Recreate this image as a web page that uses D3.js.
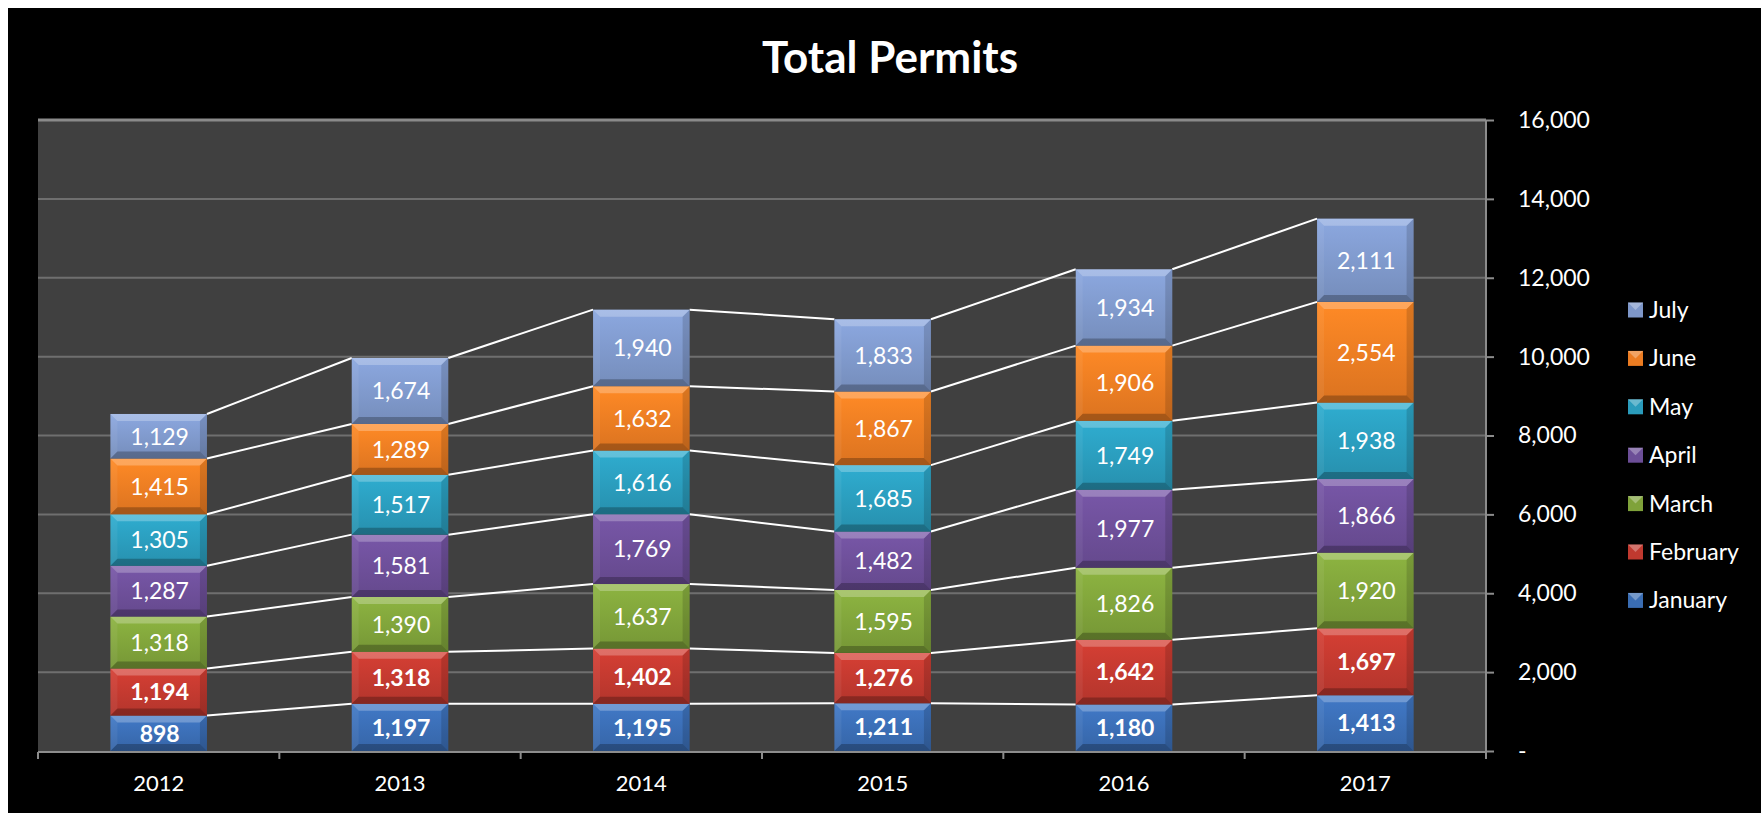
<!DOCTYPE html>
<html>
<head>
<meta charset="utf-8">
<script src="https://cdn.jsdelivr.net/npm/d3@7"></script>
<style>
    body { margin: 0; background: #ffffff; }
    text { font-family: Lato, "Open Sans", sans-serif; }
</style>
</head>
<body>
<div id="chart"></div>
<script>
// data
const years = ["2012", "2013", "2014", "2015", "2016", "2017"];
const months = ["January", "February", "March", "April", "May", "June", "July"];
const january  = [898, 1197, 1195, 1211, 1180, 1413];
const february = [1194, 1318, 1402, 1276, 1642, 1697];
const march    = [1318, 1390, 1637, 1595, 1826, 1920];
const april    = [1287, 1581, 1769, 1482, 1977, 1866];
const may      = [1305, 1517, 1616, 1685, 1749, 1938];
const june     = [1415, 1289, 1632, 1867, 1906, 2554];
const july     = [1129, 1674, 1940, 1833, 1934, 2111];
const yTicks   = [0, 2000, 4000, 6000, 8000, 10000, 12000, 14000, 16000];

const seriesValues = [january, february, march, april, may, june, july];
const colors = ["#3a6db3", "#c0392f", "#7fa23a", "#6c4e97", "#2a9bbb", "#eb7c22", "#7e97c9"];
const boldLabels = ["January", "February"];

let width = 1761, height = 813;
let plot = {left: 38, right: 1486, top: 120, bottom: 751};

// table for d3.stack
let table = years.map(function (yr, i) {
    let row = {year: yr};
    months.forEach(function (m, j) { row[m] = seriesValues[j][i]; });
    return row;
});
let stacked = d3.stack().keys(months)(table);

let svg = d3.select("#chart").append("svg")
    .attr("width", width)
    .attr("height", height);

svg.append("rect")
    .attr("x", 8).attr("y", 8)
    .attr("width", width - 8).attr("height", height - 8)
    .attr("fill", "#000000");

let x = d3.scaleBand().domain(years).range([plot.left, plot.right])
    .paddingInner(0.6).paddingOuter(0.3);
let xCat = d3.scaleBand().domain(years).range([plot.left, plot.right]);
let y = d3.scaleLinear().domain([0, 16000]).range([plot.bottom, plot.top]);

// gradients for the bevel look
let defs = svg.append("defs");
colors.forEach(function (c, i) {
    let g = defs.append("linearGradient").attr("id", "grad" + i)
        .attr("x1", 0).attr("y1", 0).attr("x2", 0).attr("y2", 1);
    g.append("stop").attr("offset", "0%").attr("stop-color", d3.color(c).brighter(0.3));
    g.append("stop").attr("offset", "100%").attr("stop-color", d3.color(c).darker(0.2));
});

// plot area
svg.append("rect")
    .attr("x", plot.left).attr("y", plot.top)
    .attr("width", plot.right - plot.left).attr("height", plot.bottom - plot.top)
    .attr("fill", "#404040");

svg.append("g").attr("class", "grid")
    .selectAll("line")
    .data(yTicks.filter(d => d > 0))
    .enter().append("line")
    .attr("x1", plot.left).attr("x2", plot.right)
    .attr("y1", d => y(d)).attr("y2", d => y(d))
    .attr("stroke", d => d === 16000 ? "#8a8a8a" : "#6f6f6f")
    .attr("stroke-width", d => d === 16000 ? 3 : 2);

// right value axis
let yAxis = svg.append("g")
    .attr("transform", "translate(" + plot.right + ",0)")
    .call(d3.axisRight(y).tickValues(yTicks)
        .tickFormat(d => d === 0 ? "-" : d3.format(",")(d))
        .tickSize(8).tickPadding(24));
yAxis.select(".domain").remove();
yAxis.selectAll(".tick line").attr("stroke", "#8c8c8c").attr("stroke-width", 2);
yAxis.selectAll(".tick text")
    .attr("fill", "#ffffff")
    .style("font-size", "23px");
svg.append("line")
    .attr("x1", plot.right).attr("x2", plot.right)
    .attr("y1", plot.top).attr("y2", plot.bottom + 6)
    .attr("stroke", "#8c8c8c").attr("stroke-width", 2);

// category axis
svg.append("line")
    .attr("x1", plot.left).attr("x2", plot.right)
    .attr("y1", plot.bottom + 1).attr("y2", plot.bottom + 1)
    .attr("stroke", "#8c8c8c").attr("stroke-width", 2);
svg.append("g")
    .selectAll("line")
    .data(years.map(d => xCat(d)).concat([plot.right]))
    .enter().append("line")
    .attr("x1", d => d).attr("x2", d => d)
    .attr("y1", plot.bottom + 1).attr("y2", plot.bottom + 8)
    .attr("stroke", "#8c8c8c").attr("stroke-width", 2);
svg.append("g")
    .selectAll("text")
    .data(years)
    .enter().append("text")
    .attr("x", d => xCat(d) + xCat.bandwidth() / 2)
    .attr("y", plot.bottom + 40)
    .attr("text-anchor", "middle")
    .attr("fill", "#ffffff")
    .style("font-size", "22px")
    .text(d => d);

// series lines between bars
let lineData = [];
stacked.forEach(function (s) {
    for (let i = 0; i < years.length - 1; i++) {
        lineData.push({x1: x(years[i]) + x.bandwidth(), y1: y(s[i][1]),
                       x2: x(years[i + 1]), y2: y(s[i + 1][1])});
    }
});
svg.append("g").attr("class", "series-lines")
    .selectAll("line")
    .data(lineData)
    .enter().append("line")
    .attr("x1", d => d.x1).attr("y1", d => d.y1)
    .attr("x2", d => d.x2).attr("y2", d => d.y2)
    .attr("stroke", "#ffffff")
    .attr("stroke-width", 2);

// bars
let b = 7;
let layers = svg.append("g").attr("class", "bars")
    .selectAll("g")
    .data(stacked)
    .enter().append("g");

let seg = layers.selectAll("g")
    .data(function (s, i) { return s.map(d => ({d: d, k: i, key: s.key})); })
    .enter().append("g");

seg.append("rect")
    .attr("x", d => x(d.d.data.year))
    .attr("y", d => y(d.d[1]))
    .attr("width", x.bandwidth())
    .attr("height", d => y(d.d[0]) - y(d.d[1]))
    .attr("fill", d => "url(#grad" + d.k + ")");

function bevel(d, side) {
    let x0 = x(d.d.data.year), x1 = x0 + x.bandwidth();
    let y0 = y(d.d[1]), y1 = y(d.d[0]);
    if (side === "top") return [[x0, y0], [x1, y0], [x1 - b, y0 + b], [x0 + b, y0 + b]];
    if (side === "bottom") return [[x0, y1], [x1, y1], [x1 - b, y1 - b], [x0 + b, y1 - b]];
    if (side === "left") return [[x0, y0], [x0 + b, y0 + b], [x0 + b, y1 - b], [x0, y1]];
    return [[x1, y0], [x1 - b, y0 + b], [x1 - b, y1 - b], [x1, y1]];
}
let bevelStyle = {top: ["#ffffff", 0.25], bottom: ["#000000", 0.25], left: ["#ffffff", 0.06], right: ["#000000", 0.14]};
Object.keys(bevelStyle).forEach(function (side) {
    seg.append("polygon")
        .attr("points", d => bevel(d, side).join(" "))
        .attr("fill", bevelStyle[side][0])
        .attr("fill-opacity", bevelStyle[side][1]);
});

seg.append("text")
    .attr("x", d => x(d.d.data.year) + x.bandwidth() / 2 + 1)
    .attr("y", d => (y(d.d[0]) + y(d.d[1])) / 2)
    .attr("dy", "0.36em")
    .attr("text-anchor", "middle")
    .attr("fill", "#ffffff")
    .style("font-size", "23px")
    .style("font-weight", d => boldLabels.indexOf(d.key) > -1 ? "bold" : "normal")
    .text(d => d3.format(",")(d.d[1] - d.d[0]));

// title
svg.append("text")
    .attr("x", 890).attr("y", 73)
    .attr("text-anchor", "middle")
    .attr("fill", "#ffffff")
    .style("font-size", "44px")
    .style("font-weight", "bold")
    .text("Total Permits");

// legend, July on top
let legend = svg.append("g").attr("class", "legend")
    .selectAll("g")
    .data(months.slice().reverse())
    .enter().append("g")
    .attr("transform", (d, i) => "translate(1628," + (310 + i * 48.4) + ")");
legend.append("rect")
    .attr("x", 0).attr("y", -7.5)
    .attr("width", 15).attr("height", 15)
    .attr("fill", d => colors[months.indexOf(d)]);
legend.append("polygon")
    .attr("points", "0,-7.5 15,-7.5 7.5,0")
    .attr("fill", "#ffffff").attr("fill-opacity", 0.3);
legend.append("text")
    .attr("x", 21).attr("y", 0)
    .attr("dy", "0.35em")
    .attr("fill", "#ffffff")
    .style("font-size", "23px")
    .text(d => d);
</script>
</body>
</html>
